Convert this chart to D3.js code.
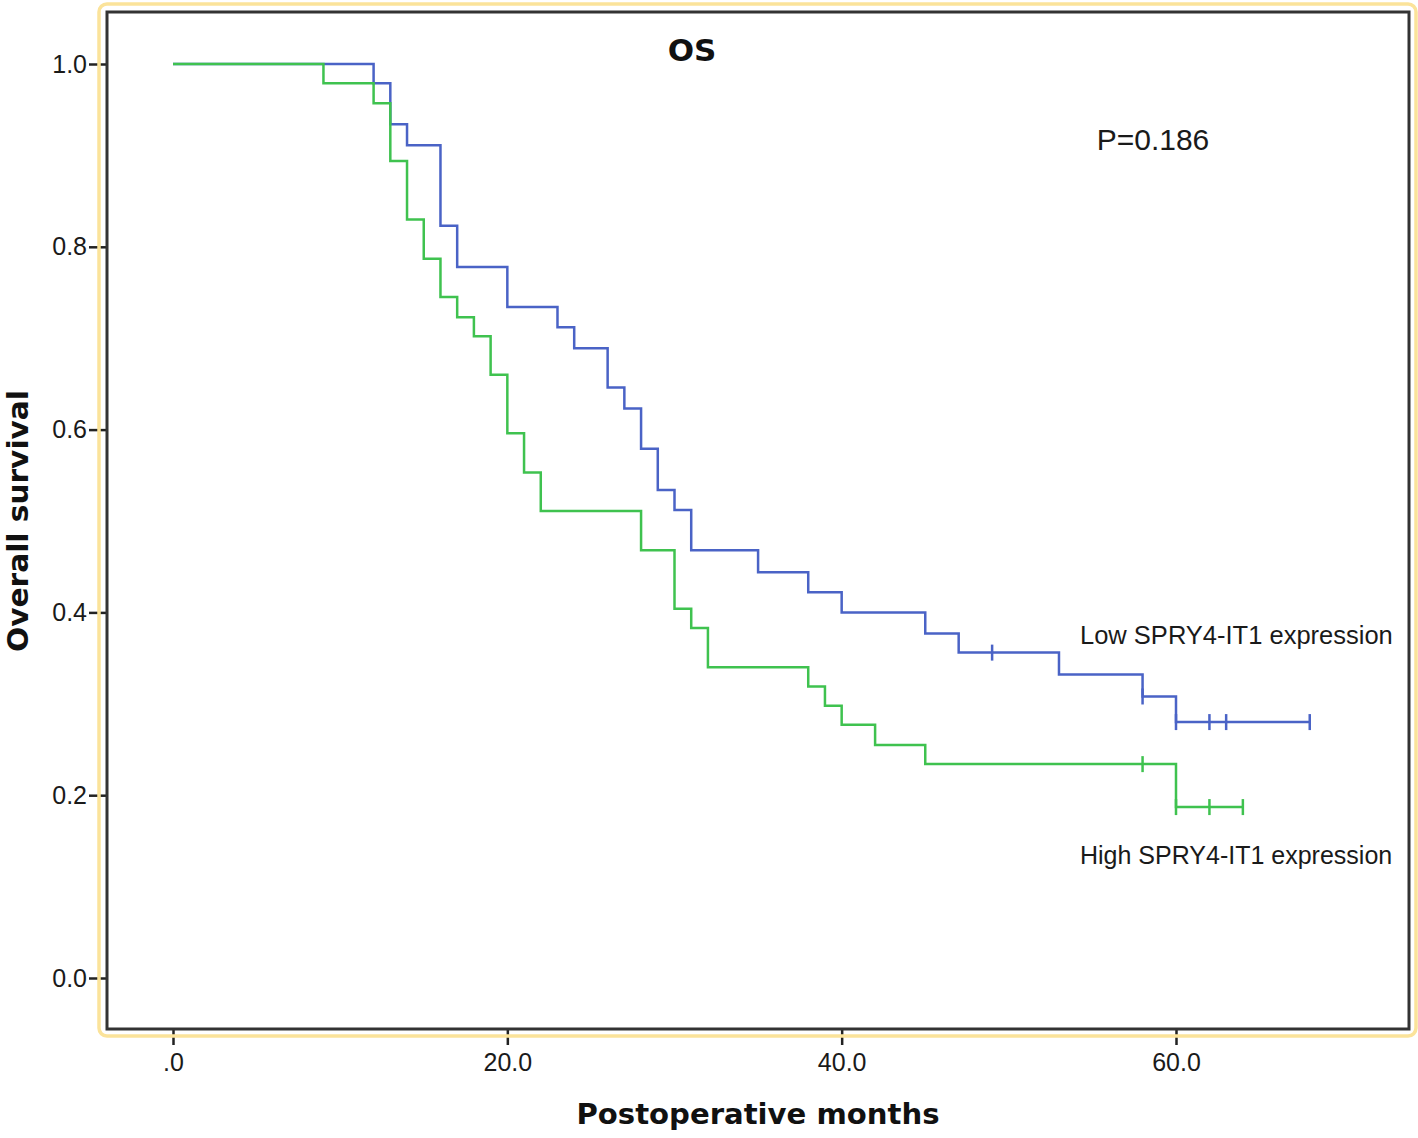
<!DOCTYPE html>
<html>
<head>
<meta charset="utf-8">
<script src="https://cdn.jsdelivr.net/npm/d3@7"></script>
<style>
  body { margin: 0; background: #fff; }
  text { font-family: "Liberation Sans", Arial, sans-serif; fill: #1a1a1a; }
  .bold { font-family: "DejaVu Sans", sans-serif; font-weight: bold; fill: #111; }
</style>
</head>
<body>
<div id="chart"></div>
<script>
// Kaplan-Meier steps (months, survival after the step)
var lowTimes = [0, 12, 13, 14, 16, 17, 20, 23, 24, 26, 27, 28, 29, 30, 31, 35, 38, 40, 45, 47, 53, 58, 60, 68];
var lowSurv  = [1.0, 0.979, 0.934, 0.911, 0.823, 0.778, 0.734, 0.712, 0.689, 0.646, 0.623, 0.579, 0.534, 0.512, 0.468, 0.444, 0.422, 0.400, 0.377, 0.356, 0.332, 0.308, 0.280, 0.280];
var lowCensored = [49, 58, 60, 62, 63, 68];

var highTimes = [0, 9, 12, 13, 14, 15, 16, 17, 18, 19, 20, 21, 22, 28, 30, 31, 32, 38, 39, 40, 42, 45, 60, 64];
var highSurv  = [1.0, 0.979, 0.957, 0.894, 0.830, 0.787, 0.745, 0.723, 0.702, 0.660, 0.596, 0.553, 0.511, 0.468, 0.404, 0.383, 0.340, 0.319, 0.298, 0.277, 0.255, 0.234, 0.187, 0.187];
var highCensored = [58, 60, 62, 64];

var xTicks = [0, 20, 40, 60];
var xTickLabels = [".0", "20.0", "40.0", "60.0"];
var yTicks = [0, 0.2, 0.4, 0.6, 0.8, 1.0];

var W = 1418, H = 1138;
var frame = {left: 107, top: 12, right: 1409, bottom: 1029};

var x = d3.scaleLinear().domain([0, 60]).range([173, 1176]);
var y = d3.scaleLinear().domain([0, 1]).range([978, 64]);

var svg = d3.select("#chart").append("svg")
    .attr("width", W)
    .attr("height", H);

svg.append("rect").attr("width", W).attr("height", H).attr("fill", "#fff");

// y axis ticks + labels
var yAxis = svg.append("g")
    .attr("transform", "translate(" + frame.left + ",0)")
    .call(d3.axisLeft(y).tickValues(yTicks).tickSize(18).tickPadding(2).tickFormat(d3.format(".1f")));
yAxis.select(".domain").remove();
yAxis.selectAll("line").attr("stroke", "#222").attr("stroke-width", 2.5);
yAxis.selectAll("text").style("font-size", "25px").style("font-family", "Liberation Sans, Arial, sans-serif").attr("fill", "#1a1a1a");

// x axis ticks + labels
var xAxis = svg.append("g")
    .attr("transform", "translate(0," + frame.bottom + ")")
    .call(d3.axisBottom(x).tickValues(xTicks).tickSize(16).tickPadding(8)
        .tickFormat(function(d, i) { return xTickLabels[i]; }));
xAxis.select(".domain").remove();
xAxis.selectAll("line").attr("stroke", "#222").attr("stroke-width", 2.5);
xAxis.selectAll("text").style("font-size", "25px").style("font-family", "Liberation Sans, Arial, sans-serif").attr("fill", "#1a1a1a");

// yellow rounded outline around the chart area
svg.append("rect")
    .attr("x", 99).attr("y", 4)
    .attr("width", 1416 - 99).attr("height", 1036 - 4)
    .attr("rx", 8)
    .attr("fill", "none")
    .attr("stroke", "#fbe39a")
    .attr("stroke-width", 3.5);

// plot frame
svg.append("rect")
    .attr("x", frame.left).attr("y", frame.top)
    .attr("width", frame.right - frame.left).attr("height", frame.bottom - frame.top)
    .attr("fill", "#fff")
    .attr("stroke", "#333")
    .attr("stroke-width", 3);

var stepLine = d3.line()
    .x(function(d) { return x(d[0]); })
    .y(function(d) { return y(d[1]); })
    .curve(d3.curveStepAfter);

function survAt(times, surv, t) {
    var s = surv[0];
    for (var i = 0; i < times.length; i++) {
        if (times[i] <= t) s = surv[i];
    }
    return s;
}

function drawGroup(times, surv, censored, color) {
    var pts = times.map(function(t, i) { return [t, surv[i]]; });
    svg.append("path")
        .attr("d", stepLine(pts))
        .attr("fill", "none")
        .attr("stroke", color)
        .attr("stroke-width", 2.5);

    svg.selectAll(null)
        .data(censored)
        .enter().append("line")
        .attr("x1", function(d) { return x(d); })
        .attr("x2", function(d) { return x(d); })
        .attr("y1", function(d) { return y(survAt(times, surv, d)) - 8; })
        .attr("y2", function(d) { return y(survAt(times, surv, d)) + 8; })
        .attr("stroke", color)
        .attr("stroke-width", 2.5);
}

drawGroup(lowTimes, lowSurv, lowCensored, "#4a63c6");
drawGroup(highTimes, highSurv, highCensored, "#3fc24f");

// texts
svg.append("text")
    .attr("class", "bold")
    .attr("x", 692).attr("y", 61)
    .attr("text-anchor", "middle")
    .style("font-size", "31px")
    .text("OS");

svg.append("text")
    .attr("x", 1153).attr("y", 150)
    .attr("text-anchor", "middle")
    .style("font-size", "30px")
    .text("P=0.186");

svg.append("text")
    .attr("x", 1080).attr("y", 644)
    .style("font-size", "25.5px")
    .text("Low SPRY4-IT1 expression");

svg.append("text")
    .attr("x", 1080).attr("y", 864)
    .style("font-size", "25px")
    .text("High SPRY4-IT1 expression");

svg.append("text")
    .attr("class", "bold")
    .attr("x", 758).attr("y", 1124)
    .attr("text-anchor", "middle")
    .attr("textLength", 363)
    .attr("lengthAdjust", "spacingAndGlyphs")
    .style("font-size", "28px")
    .text("Postoperative months");

svg.append("text")
    .attr("class", "bold")
    .attr("transform", "translate(28,521) rotate(-90)")
    .attr("text-anchor", "middle")
    .attr("textLength", 262)
    .attr("lengthAdjust", "spacingAndGlyphs")
    .style("font-size", "28px")
    .text("Overall survival");
</script>
</body>
</html>
